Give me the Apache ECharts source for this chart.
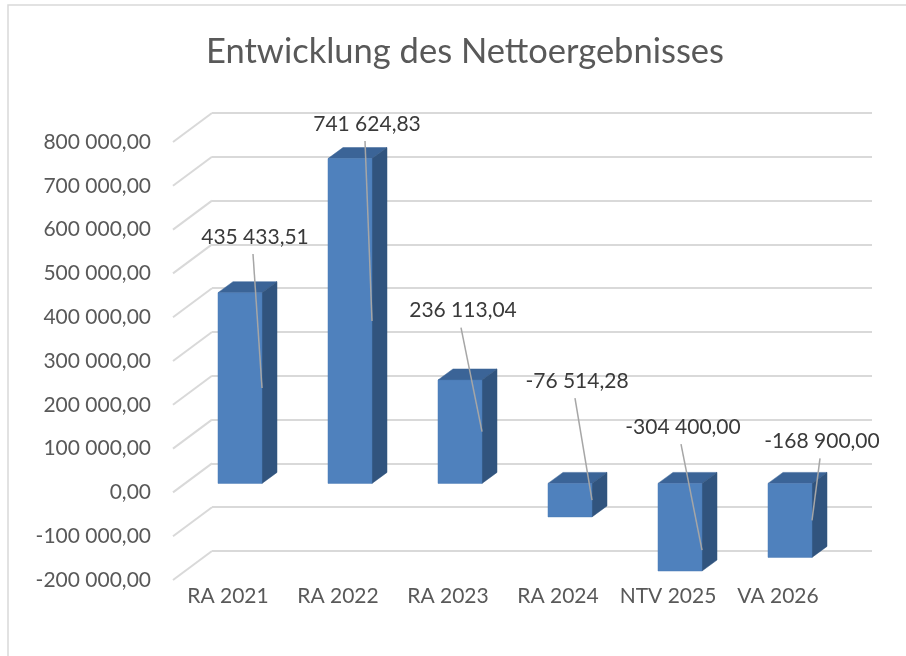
<!DOCTYPE html>
<html>
<head>
<meta charset="utf-8">
<script src="https://cdn.jsdelivr.net/npm/echarts@6/dist/echarts.min.js"></script>
<style>
html,body{margin:0;padding:0;background:#fff;}
#chart{width:906px;height:656px;}
</style>
</head>
<body>
<div id="chart"></div>
<script>
// ---- data ----
const categories = ['RA 2021', 'RA 2022', 'RA 2023', 'RA 2024', 'NTV 2025', 'VA 2026'];
const values = [435433.51, 741624.83, 236113.04, -76514.28, -304400.00, -168900.00];
const yTicks = [-200000, -100000, 0, 100000, 200000, 300000, 400000, 500000, 600000, 700000, 800000];
const titleText = 'Entwicklung des Nettoergebnisses';

// ---- layout (not data) ----
const FONT = 'Lato, "Open Sans", sans-serif';
const PLOT_W = 660, PLOT_H = 438;
const FRONT = {left: 173, top: 142};
const BACK = {left: 212, top: 113};
const BARP = {left: 185, top: 133};
const DEPTH_X = BACK.left - FRONT.left, DEPTH_Y = FRONT.top - BACK.top;
const BAR_DX = 15, BAR_DY = -11;
// label centre offsets relative to the leader's anchor on the bar
const labelOffsets = [[-7, -151], [-5, -197], [-19, -121], [-15, -119], [-19, -123], [10, -79]];

function fmt(v) {
  const neg = v < 0;
  const a = Math.abs(v).toFixed(2).split('.');
  const intPart = a[0].replace(/\B(?=(\d{3})+(?!\d))/g, ' ');
  return (neg ? '-' : '') + intPart + ',' + a[1];
}

const yMin = yTicks[0], yMax = yTicks[yTicks.length - 1], yStep = yTicks[1] - yTicks[0];

function gridOf(p) {
  return {left: p.left, top: p.top, width: PLOT_W, height: PLOT_H, containLabel: false};
}
function yAx(idx, opts) {
  return Object.assign({
    type: 'value', gridIndex: idx, min: yMin, max: yMax, interval: yStep,
    axisLine: {show: false}, axisTick: {show: false},
    axisLabel: {show: false}, splitLine: {show: false}
  }, opts || {});
}
function xAx(idx, opts) {
  return Object.assign({
    type: 'category', gridIndex: idx, data: categories,
    axisLine: {show: false}, axisTick: {show: false},
    axisLabel: {show: false}, splitLine: {show: false}
  }, opts || {});
}

function renderWall(params, api) {
  const v = api.value(1);
  const cs = params.coordSys;
  const y = api.coord([0, v])[1];
  const x = cs.x;
  return {
    type: 'line',
    shape: {x1: x, y1: y, x2: x + DEPTH_X, y2: y - DEPTH_Y},
    style: {stroke: '#d9d9d9', lineWidth: 2}
  };
}

function renderBar(params, api) {
  const i = api.value(0), v = api.value(1);
  const cs = params.coordSys;
  const band = api.size([1, 0])[0];
  const w = band * 0.4;
  const p0 = api.coord([i, 0]);
  const pv = api.coord([i, v]);
  const cx = p0[0];
  const clamp = y => Math.min(Math.max(y, cs.y), cs.y + cs.height);
  const yt = clamp(Math.min(p0[1], pv[1]));
  const yb = clamp(Math.max(p0[1], pv[1]));
  const xl = cx - w / 2, xr = cx + w / 2;
  const ymid = (p0[1] + pv[1]) / 2;
  const off = labelOffsets[params.dataIndex];
  const lx = xr + off[0], ly = ymid + off[1];
  return {
    type: 'group',
    children: [
      {type: 'polygon', shape: {points: [[xl, yt], [xl + BAR_DX, yt + BAR_DY], [xr + BAR_DX, yt + BAR_DY], [xr, yt]]},
        style: {fill: '#3b6497', stroke: '#3b6497', lineWidth: 0.5}},
      {type: 'polygon', shape: {points: [[xr, yt], [xr + BAR_DX, yt + BAR_DY], [xr + BAR_DX, yb + BAR_DY], [xr, yb]]},
        style: {fill: '#31547e', stroke: '#31547e', lineWidth: 0.5}},
      {type: 'rect', shape: {x: xl, y: yt, width: w, height: yb - yt},
        style: {fill: '#4f81bd', stroke: '#4a7ab5', lineWidth: 0.5}},
      {type: 'line', shape: {x1: lx - 2, y1: ly + 17, x2: xr, y2: ymid},
        style: {stroke: '#a6a6a6', lineWidth: 1.5}},
      {type: 'text', x: lx, y: ly,
        style: {text: fmt(v), fill: '#3a3a3a', font: '21px ' + FONT, align: 'center', verticalAlign: 'middle'}}
    ]
  };
}

const chart = echarts.init(document.getElementById('chart'), null, {renderer: 'canvas'});
chart.setOption({
  backgroundColor: '#ffffff',
  animation: false,
  title: {
    text: titleText, left: 460, top: 29, textAlign: 'center',
    textStyle: {fontFamily: FONT, fontSize: 34.5, fontWeight: 'normal', color: '#595959'}
  },
  graphic: [{
    type: 'polyline', silent: true,
    shape: {points: [[8, 700], [8, 5], [910, 5]]},
    style: {stroke: '#d9d9d9', lineWidth: 1.5, fill: null}
  }],
  grid: [gridOf(BACK), gridOf(BARP), gridOf(FRONT)],
  xAxis: [
    xAx(0), xAx(1),
    xAx(2, {axisLabel: {show: true, interval: 0, margin: 6, color: '#595959', fontFamily: FONT, fontSize: 21}})
  ],
  yAxis: [
    yAx(0, {splitLine: {show: true, lineStyle: {color: '#d9d9d9', width: 2}}}),
    yAx(1),
    yAx(2, {axisLabel: {show: true, margin: 22, color: '#595959', fontFamily: FONT, fontSize: 21, formatter: v => fmt(v)}})
  ],
  series: [
    {
      type: 'custom', name: 'wall', xAxisIndex: 2, yAxisIndex: 2, z: 1, silent: true,
      renderItem: renderWall,
      data: yTicks.map(v => [0, v]),
      encode: {x: 0, y: 1}
    },
    {
      type: 'custom', name: 'Nettoergebnis', xAxisIndex: 1, yAxisIndex: 1, z: 5,
      renderItem: renderBar,
      clip: false,
      data: values.map((v, i) => [i, v]),
      encode: {x: 0, y: 1}
    }
  ]
});
</script>
</body>
</html>
